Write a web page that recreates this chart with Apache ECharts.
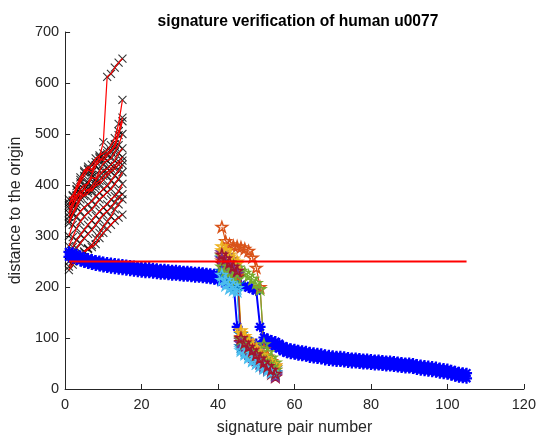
<!DOCTYPE html>
<html>
<head>
<meta charset="utf-8">
<script src="https://cdn.jsdelivr.net/npm/echarts@6/dist/echarts.min.js"></script>
<style>
html, body { margin: 0; padding: 0; background: #fff; overflow: hidden; }
#main { width: 539px; height: 441px; }
</style>
</head>
<body>
<div id="main"></div>
<script>
var titleText = 'signature verification of human u0077';
var xName = 'signature pair number';
var yName = 'distance to the origin';
var xTicks = [0, 20, 40, 60, 80, 100, 120];
var yTicks = [0, 100, 200, 300, 400, 500, 600, 700];

// forged pairs, first point at x = 1
var forgedStart = 1;
var forged = [
    [330, 345, 362, 378, 392, 405, 420, 438, 455, 484, 612, 618, 630, 640, 648],
    [360, 378, 398, 415, 425, 432, 440, 452, 458, 462, 468, 478, 492, 520, 567],
    [345, 368, 392, 410, 428, 436, 430, 445, 452, 448, 458, 465, 480, 505, 532],
    [372, 380, 390, 405, 418, 430, 425, 438, 446, 455, 462, 468, 475, 498, 525],
    [338, 358, 378, 392, 400, 402, 415, 412, 428, 442, 448, 452, 465, 478, 500],
    [355, 362, 372, 386, 392, 388, 398, 408, 420, 428, 432, 440, 448, 462, 472],
    [325, 342, 356, 372, 382, 392, 388, 402, 408, 418, 424, 432, 438, 446, 455],
    [365, 370, 380, 384, 378, 384, 392, 398, 402, 410, 418, 426, 432, 440, 448],
    [300, 322, 338, 348, 356, 362, 368, 378, 384, 392, 398, 408, 418, 428, 440],
    [280, 298, 315, 328, 338, 346, 352, 362, 372, 378, 386, 392, 402, 412, 425],
    [262, 278, 292, 302, 312, 322, 330, 340, 348, 356, 362, 372, 378, 388, 402],
    [250, 262, 276, 286, 296, 304, 312, 322, 332, 342, 348, 356, 366, 376, 382],
    [240, 250, 258, 264, 270, 276, 282, 296, 306, 318, 328, 338, 352, 362, 372],
    [233, 244, 254, 262, 268, 274, 278, 284, 296, 306, 314, 322, 330, 336, 342]
];

// genuine pairs, first point at x = 1
var genuineStart = 1;
var genuineA = [
    269, 267, 264, 261, 258, 256, 254, 252, 251, 249,
    248, 247, 246, 245, 244, 243, 242, 241, 240, 239,
    238, 238, 237, 236, 235, 235, 234, 233, 233, 232,
    231, 231, 230, 229, 229, 228, 227, 226, 225, 223,
    220, 218, 216, 214, 122, 100, 96, 93, 90, 88,
    86, 91, 88, 85, 83, 79, 74, 71, 69, 68,
    66, 65, 64, 62, 61, 60, 59, 57, 56, 55,
    54, 54, 53, 52, 51, 51, 50, 49, 49, 48,
    47, 47, 46, 45, 45, 44, 43, 42, 41, 41,
    40, 38, 37, 36, 35, 34, 33, 31, 30, 29,
    27, 25, 23, 22, 21
];
var genuineB = [
    259, 257, 254, 251, 248, 246, 244, 242, 241, 239,
    238, 237, 236, 235, 234, 233, 232, 231, 230, 229,
    228, 228, 227, 226, 225, 225, 224, 223, 223, 222,
    221, 221, 220, 219, 219, 218, 217, 216, 215, 213,
    210, 208, 206, 204, 206, 204, 202, 199, 196, 193,
    122, 101, 98, 95, 93, 89, 84, 81, 79, 78,
    76, 75, 74, 72, 71, 70, 69, 67, 66, 65,
    64, 64, 63, 62, 61, 61, 60, 59, 59, 58,
    57, 57, 56, 55, 55, 54, 53, 52, 51, 51,
    50, 48, 47, 46, 45, 44, 43, 41, 40, 39,
    37, 35, 33, 32, 31
];

// pairs against other users, first point at x = 41
var otherStart = 41;
var others = [
    [258, 250, 244, 238, 230, 108, 98, 90, 82, 75, 68, 60, 54, 48, 42],
    [318, 290, 284, 281, 280, 278, 275, 271, 258, 238, 200, 78, 64, 55, 46],
    [280, 272, 264, 256, 250, 115, 104, 95, 87, 80, 72, 65, 58, 52, 46],
    [268, 262, 254, 246, 238, 96, 86, 78, 70, 62, 56, 49, 42, 36, 28],
    [262, 256, 250, 244, 238, 232, 228, 222, 216, 208, 196, 88, 72, 62, 52],
    [214, 204, 198, 195, 192, 80, 72, 64, 57, 51, 46, 42, 38, 34, 30],
    [246, 238, 232, 226, 220, 92, 82, 74, 66, 58, 51, 44, 38, 31, 24],
    [232, 224, 218, 212, 206, 84, 77, 70, 64, 58, 52, 47, 42, 37, 33],
    [252, 244, 236, 229, 222, 102, 93, 86, 78, 71, 63, 56, 50, 44, 38],
    [272, 268, 260, 252, 246, 110, 100, 91, 83, 75, 67, 61, 55, 49, 43],
    [256, 246, 239, 232, 226, 90, 81, 73, 65, 59, 53, 47, 40, 34, 26],
    [240, 233, 228, 221, 215, 98, 89, 81, 73, 67, 61, 55, 49, 43, 38],
    [224, 214, 208, 203, 198, 76, 69, 62, 56, 51, 46, 41, 37, 33, 30],
    [264, 256, 248, 240, 232, 100, 91, 83, 76, 68, 60, 52, 45, 38, 30]
];
var otherColors = ['#0072BD', '#D95319', '#EDB120', '#7E2F8E', '#77AC30', '#4DBEEE', '#A2142F'];

var thresholdX = [1, 105];
var threshold = 250;

(function () {
    var font = 'Liberation Sans, Arial, Helvetica, sans-serif';
    var ink = '#262626';
    var xMark = 'path://M-10 -10 L10 10 M-10 10 L10 -10';
    var asterisk = 'path://M0 -10 L0 10 M-10 0 L10 0 M-7 -7 L7 7 M-7 7 L7 -7';
    var star = 'path://M0 -10 L2.245 -3.09 L9.51 -3.09 L3.633 1.18 L5.88 8.09 L0 3.82 L-5.88 8.09 L-3.633 1.18 L-9.51 -3.09 L-2.245 -3.09 Z';

    function pairs(start, vals) {
        return vals.map(function (v, i) { return [start + i, v]; });
    }

    var myChart = echarts.init(document.querySelector('#main'));
    var series = [];

    // forged: red line with black x, one run after another
    forged.forEach(function (run) {
        series.push({
            type: 'line',
            data: pairs(forgedStart, run),
            symbol: 'none',
            lineStyle: { color: '#FF0000', width: 1.2 }
        });
        series.push({
            type: 'scatter',
            data: pairs(forgedStart, run),
            symbol: xMark,
            symbolSize: 8,
            itemStyle: { color: 'none', borderColor: '#000000', borderWidth: 1.1 }
        });
    });

    // genuine: blue asterisks
    [genuineA, genuineB].forEach(function (run) {
        series.push({
            type: 'line',
            data: pairs(genuineStart, run),
            symbol: asterisk,
            symbolSize: 11,
            showAllSymbol: true,
            lineStyle: { color: '#0000FF', width: 2 },
            itemStyle: { color: 'none', borderColor: '#0000FF', borderWidth: 2.2 }
        });
    });

    // other users: coloured pentagrams
    others.forEach(function (run, k) {
        var c = otherColors[k % otherColors.length];
        series.push({
            type: 'line',
            data: pairs(otherStart, run),
            symbol: star,
            symbolSize: 11,
            symbolKeepAspect: true,
            showAllSymbol: true,
            lineStyle: { color: c, width: 1.2 },
            itemStyle: { color: 'none', borderColor: c, borderWidth: 1.5 }
        });
    });

    // threshold
    series.push({
        type: 'line',
        data: thresholdX.map(function (x) { return [x, threshold]; }),
        symbol: 'none',
        lineStyle: { color: '#FF0000', width: 2 },
        z: 5
    });

    var option = {
        animation: false,
        title: {
            text: titleText,
            left: 293,
            top: 9,
            textAlign: 'center',
            textStyle: { fontFamily: font, fontSize: 15.6, fontWeight: 'bold', color: '#000' }
        },
        grid: { left: 59, right: 12, top: 32, bottom: 42 },
        xAxis: {
            type: 'value',
            min: xTicks[0],
            max: xTicks[xTicks.length - 1],
            interval: xTicks[1] - xTicks[0],
            name: xName,
            nameLocation: 'middle',
            nameGap: 31,
            nameTextStyle: { fontFamily: font, fontSize: 16, color: ink },
            axisLine: { onZero: false, lineStyle: { color: ink, width: 1 } },
            axisTick: { inside: true, length: 5, lineStyle: { color: ink } },
            axisLabel: { fontFamily: font, fontSize: 14.5, color: ink, margin: 8 },
            splitLine: { show: false }
        },
        yAxis: {
            type: 'value',
            min: yTicks[0],
            max: yTicks[yTicks.length - 1],
            interval: yTicks[1] - yTicks[0],
            name: yName,
            nameLocation: 'middle',
            nameGap: 36,
            nameTextStyle: { fontFamily: font, fontSize: 16, color: ink },
            axisLine: { show: true, onZero: false, lineStyle: { color: ink, width: 1 } },
            axisTick: { show: true, inside: true, length: 5, lineStyle: { color: ink } },
            axisLabel: { fontFamily: font, fontSize: 14.5, color: ink, margin: 6 },
            splitLine: { show: false }
        },
        series: series
    };
    myChart.setOption(option);
})();
</script>
</body>
</html>
